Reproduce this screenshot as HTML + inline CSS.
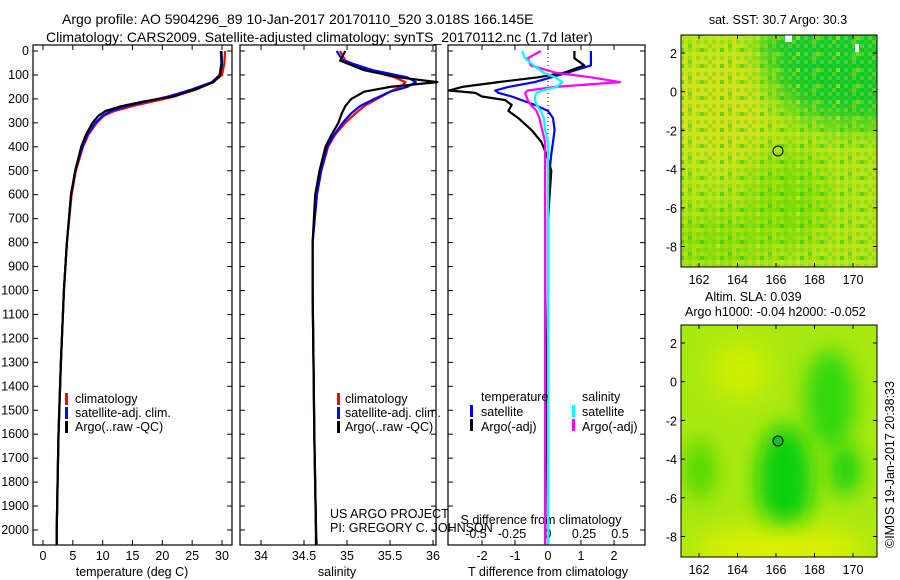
<!DOCTYPE html>
<html><head><meta charset="utf-8"><style>
html,body{margin:0;padding:0;background:#fff}
svg{display:block;font-family:"Liberation Sans",sans-serif}
text{font-size:12.5px;fill:#000}
</style></head><body>
<svg id="fig" width="900" height="580" viewBox="0 0 900 580" xmlns="http://www.w3.org/2000/svg">
<defs>
<filter id="bl1" x="-50%" y="-50%" width="200%" height="200%"><feGaussianBlur stdDeviation="14"/></filter>
<filter id="bl2" x="-50%" y="-50%" width="200%" height="200%"><feGaussianBlur stdDeviation="10"/></filter>
<pattern id="noise" width="8" height="8" patternUnits="userSpaceOnUse">
<rect width="4" height="4" fill="#5ad000" opacity="0.35"/><rect x="4" y="4" width="4" height="4" fill="#e0e820" opacity="0.3"/>
</pattern>
<pattern id="noise2" width="20" height="16" patternUnits="userSpaceOnUse">
<rect x="0" y="0" width="4" height="4" fill="#10c010" opacity="0.5"/><rect x="12" y="8" width="4" height="4" fill="#f0d020" opacity="0.4"/><rect x="8" y="12" width="4" height="4" fill="#20c000" opacity="0.4"/><rect x="16" y="4" width="4" height="4" fill="#c8f000" opacity="0.5"/>
</pattern>
<clipPath id="cm1"><rect x="681" y="35" width="196" height="232"/></clipPath>
<clipPath id="cm2"><rect x="681" y="325" width="196" height="232"/></clipPath>
</defs>
<text x="62" y="24" style="font-size:14px">Argo profile: AO 5904296_89 10-Jan-2017 20170110_520 3.018S 166.145E</text>
<text x="46" y="42" style="font-size:14px">Climatology: CARS2009. Satellite-adjusted climatology: synTS_20170112.nc (1.7d later)</text>

<g clip-path="url(#cm1)">
<rect x="681" y="35" width="196" height="232" fill="#b4e41c"/>
<ellipse cx="720" cy="110" rx="50" ry="60" fill="#e0e020" filter="url(#bl1)" opacity="0.7"/>
<ellipse cx="860" cy="70" rx="90" ry="55" fill="#10c830" filter="url(#bl1)"/>
<ellipse cx="820" cy="45" rx="60" ry="20" fill="#08c838" filter="url(#bl2)"/>
<ellipse cx="790" cy="200" rx="40" ry="50" fill="#60d800" filter="url(#bl1)" opacity="0.6"/>
<ellipse cx="720" cy="240" rx="50" ry="30" fill="#70d800" filter="url(#bl1)" opacity="0.6"/>
<rect x="681" y="35" width="196" height="232" fill="url(#noise2)"/>
<rect x="681" y="35" width="196" height="232" fill="url(#noise)"/>
<rect x="785" y="35" width="7" height="7" fill="#fff"/><rect x="855" y="44" width="4" height="8" fill="#fff"/>
</g>
<rect x="681" y="35" width="196" height="232" fill="none" stroke="#000"/>
<circle cx="778" cy="151" r="5" fill="none" stroke="#000"/>
<text x="778" y="24" text-anchor="middle">sat. SST: 30.7  Argo: 30.3</text>

<g clip-path="url(#cm2)">
<rect x="681" y="325" width="196" height="232" fill="#a8e810"/>
<ellipse cx="785" cy="480" rx="28" ry="55" fill="#10d010" filter="url(#bl2)"/>
<ellipse cx="830" cy="400" rx="25" ry="50" fill="#30d808" filter="url(#bl2)"/>
<ellipse cx="845" cy="470" rx="15" ry="25" fill="#18d010" filter="url(#bl2)"/>
<ellipse cx="700" cy="470" rx="15" ry="30" fill="#50d800" filter="url(#bl2)"/>
<ellipse cx="740" cy="370" rx="30" ry="30" fill="#d0f000" filter="url(#bl1)"/>
<ellipse cx="780" cy="550" rx="90" ry="22" fill="#e0f000" filter="url(#bl1)"/>
</g>
<rect x="681" y="325" width="196" height="232" fill="none" stroke="#000"/>
<circle cx="778" cy="441" r="5" fill="#10c020" stroke="#000"/>
<text x="705" y="301">Altim. SLA: 0.039</text>
<text x="685" y="316">Argo h1000: -0.04 h2000: -0.052</text>
<text transform="translate(894,548) rotate(-90)">©IMOS 19-Jan-2017 20:38:33</text>

<g id="plots"></g>
</svg>
<script>
// ---- data ----
const depthT = [0,50,100,130,160,190,210,230,250,270,300,350,400,500,600,800,1000,1300,1600,2000,2060];
const tempClim = [30.5,30.4,30.0,28.5,25.8,22,18.5,15,12,10.2,9.0,7.6,6.7,5.5,4.8,4.0,3.5,3.0,2.6,2.3,2.3];
const tempSat  = [29.8,29.9,29.6,28.3,25,21,17.5,14,11.4,10,8.8,7.4,6.6,5.4,4.7,4.0,3.5,3.0,2.6,2.3,2.3];
const tempArgo = [29.9,30.0,29.7,28.6,25.5,21.8,17,13.2,10.5,9.3,8.3,7.2,6.4,5.4,4.7,4.0,3.5,3.0,2.6,2.3,2.3];
const depthS = [0,40,80,110,130,150,170,200,230,260,300,350,400,500,600,800,1000,1300,1600,2000,2060];
const salClim = [34.92,34.98,35.25,35.55,35.68,35.62,35.5,35.35,35.2,35.1,34.98,34.86,34.78,34.7,34.65,34.6,34.6,34.61,34.62,34.64,34.65];
const salSat  = [34.88,34.95,35.3,35.7,35.8,35.7,35.5,35.32,35.15,35.05,34.95,34.85,34.77,34.7,34.65,34.6,34.6,34.61,34.62,34.64,34.64];
const salArgo = [34.98,34.92,35.2,35.6,36.05,35.5,35.2,35.05,34.98,34.94,34.9,34.82,34.75,34.68,34.63,34.6,34.6,34.61,34.62,34.64,34.64];
const depthD = [0,30,60,90,110,130,150,165,175,190,205,225,250,280,330,380,430,500,700,1000,1400,2060];
const dTArgo = [0.8,0.8,1.1,0.5,-0.3,-1.5,-2.6,-3.0,-2.2,-2.0,-1.3,-1.1,-1.2,-0.9,-0.5,-0.2,-0.05,0.1,0.0,0.0,-0.05,0.0];
const dTSat  = [1.3,1.3,1.3,0.6,0.1,-0.4,-1.2,-1.6,-1.5,-1.1,-0.8,-0.4,0.0,0.15,0.2,0.15,0.1,0.05,0.0,0.0,0.0,0.0];
const dSArgo = [-0.05,-0.14,-0.12,0.05,0.3,0.5,0.05,-0.14,-0.16,-0.15,-0.14,-0.12,-0.08,-0.06,-0.04,-0.02,-0.02,-0.02,-0.02,-0.02,-0.02,-0.02];
const dSSat  = [-0.18,-0.16,-0.1,-0.03,0.05,0.1,0.06,-0.04,-0.08,-0.09,-0.09,-0.08,-0.05,-0.03,-0.02,0.0,0.0,0.0,0.0,0.0,0.0,0.0];
const depthTicks = [0,100,200,300,400,500,600,700,800,900,1000,1100,1200,1300,1400,1500,1600,1700,1800,1900,2000];
const tTicks = [0,5,10,15,20,25,30];
const sTicks = [34,34.5,35,35.5,36];
const dtTicks = [-2,-1,0,1,2];
const dsTicks = [-0.5,-0.25,0,0.25,0.5];
const ssLatTicks = [2,0,-2,-4,-6,-8];
const lonTicks = [162,164,166,168,170];

const NS="http://www.w3.org/2000/svg";
const root=document.getElementById('plots');
function mk(tag,at,parent){const e=document.createElementNS(NS,tag);for(const k in at)e.setAttribute(k,at[k]);(parent||root).appendChild(e);return e;}
const Y0=51, YS=479/2000, PT=45, PB=545;
const yD = d => Y0 + d*YS;
function lin(v0,p0,v1,p1){return v=>p0+(v-v0)*(p1-p0)/(v1-v0);}
const xT = lin(0,43,30,222), xS = lin(34,261,36,433), xDT = lin(0,548,1,581), xDS = lin(0,548,0.5,620);

function frame(x0,x1,name){
  const r=mk('rect',{x:x0,y:PT,width:x1-x0,height:PB-PT,fill:'none',stroke:'#000','stroke-width':1.2});
  
  
  depthTicks.forEach(d=>{
    mk('line',{x1:x0,x2:x0+5,y1:yD(d),y2:yD(d),stroke:'#000'});
    mk('line',{x1:x1,x2:x1-5,y1:yD(d),y2:yD(d),stroke:'#000'});
  });
}
function xticks(ticks,fx,x0,x1,labY,name){
  ticks.forEach(t=>{const x=fx(t);
    mk('line',{x1:x,x2:x,y1:PB,y2:PB-5,stroke:'#000'});
    mk('line',{x1:x,x2:x,y1:PT,y2:PT+5,stroke:'#000'});
    const tx=mk('text',{x:x,y:labY,'text-anchor':'middle'});tx.textContent=String(t);
    
    
  });
}
function line(vals,deps,fx,color,name,w){
  const p=mk('polyline',{points:vals.map((v,i)=>fx(v).toFixed(1)+','+yD(deps[i]).toFixed(1)).join(' '),fill:'none',stroke:color,'stroke-width':w||2.2,'stroke-linejoin':'round'});
  
  
}
function lbl(x,y,s,name,anchor){const t=mk('text',{x:x,y:y,'text-anchor':anchor||'start'});t.textContent=s;
  
  return t;}

// panel 1
frame(33,232,'temperature-panel');
depthTicks.forEach(d=>{const t=lbl(29,yD(d)+4,String(d),'depth-tick-label','end');});
xticks(tTicks,xT,33,232,560,'temperature-tick-label');
lbl(132,576,'temperature (deg C)','temperature-axis-title','middle');
line(tempClim,depthT,xT,'#f00','temp-climatology');
line(tempSat,depthT,xT,'#00f','temp-satellite-adj');
line(tempArgo,depthT,xT,'#000','temp-argo');
// legend 1
[['#f00','climatology',403],['#00f','satellite-adj. clim.',417],['#000','Argo(..raw -QC)',431]].forEach(a=>{
  mk('rect',{x:65,y:a[2]-10,width:3,height:12,fill:a[0]});lbl(75,a[2],a[1],'legend-entry');});

// panel 2
frame(240,436,'salinity-panel');
xticks(sTicks,xS,240,436,560,'salinity-tick-label');
lbl(337,576,'salinity','salinity-axis-title','middle');
line(salClim,depthS,xS,'#f00','sal-climatology');
line(salSat,depthS,xS,'#00f','sal-satellite-adj');
line(salArgo,depthS,xS,'#000','sal-argo');
[['#f00','climatology',403],['#00f','satellite-adj. clim.',417],['#000','Argo(..raw -QC)',431]].forEach(a=>{
  mk('rect',{x:337,y:a[2]-10,width:3,height:12,fill:a[0]});lbl(345,a[2],a[1],'legend-entry');});
lbl(330,518,'US ARGO PROJECT','project-label');
lbl(330,532,'PI: GREGORY C. JOHNSON','pi-label');

// panel 3
frame(448,645,'difference-panel');
mk('line',{x1:548,x2:548,y1:PT,y2:PB,stroke:'#000','stroke-dasharray':'1,3'});
xticks(dtTicks,xDT,448,645,560,'tdiff-tick-label');
dsTicks.forEach(t=>{const tx=lbl(xDS(t),538,String(t).replace('0.','.').replace('-.','-0.').replace(/^\.(\d)$/,'0.$1'),'sdiff-tick-label','middle');tx.textContent=String(t);});
lbl(541,524,'S difference from climatology','sdiff-axis-title','middle');
lbl(548,576,'T difference from climatology','tdiff-axis-title','middle');
line(dTSat,depthD,xDT,'#00f','tdiff-satellite');
line(dTArgo,depthD,xDT,'#000','tdiff-argo');
line(dSArgo,depthD,xDS,'#f0f','sdiff-argo');
line(dSSat,depthD,xDS,'#0ff','sdiff-satellite');
lbl(481,401,'temperature','legend-entry');lbl(582,401,'salinity','legend-entry');
mk('rect',{x:470,y:405,width:3,height:12,fill:'#00f'});lbl(481,416,'satellite','legend-entry');
mk('rect',{x:470,y:419,width:3,height:12,fill:'#000'});lbl(481,431,'Argo(-adj)','legend-entry');
mk('rect',{x:572,y:405,width:3,height:12,fill:'#0ff'});lbl(582,416,'satellite','legend-entry');
mk('rect',{x:572,y:419,width:3,height:12,fill:'#f0f'});lbl(582,431,'Argo(-adj)','legend-entry');

// map axes
const latY1=lin(2,53,-8,246.5), latY2=lin(2,343,-8,536.5), lonX=lin(162,699,170,853);
ssLatTicks.forEach(l=>{
  [[latY1,35,267],[latY2,325,557]].forEach(m=>{const y=m[0](l);
    mk('line',{x1:681,x2:685,y1:y,y2:y,stroke:'#000'});mk('line',{x1:877,x2:873,y1:y,y2:y,stroke:'#000'});
    lbl(677,y+5,String(l),'map-lat-label','end');});
});
lonTicks.forEach(l=>{const x=lonX(l);
  [[35,267,284],[325,557,574]].forEach(m=>{
    mk('line',{x1:x,x2:x,y1:m[0],y2:m[0]+4,stroke:'#000'});mk('line',{x1:x,x2:x,y1:m[1],y2:m[1]-4,stroke:'#000'});
    lbl(x,m[2],String(l),'map-lon-label','middle');});
});
</script>
</body></html>
